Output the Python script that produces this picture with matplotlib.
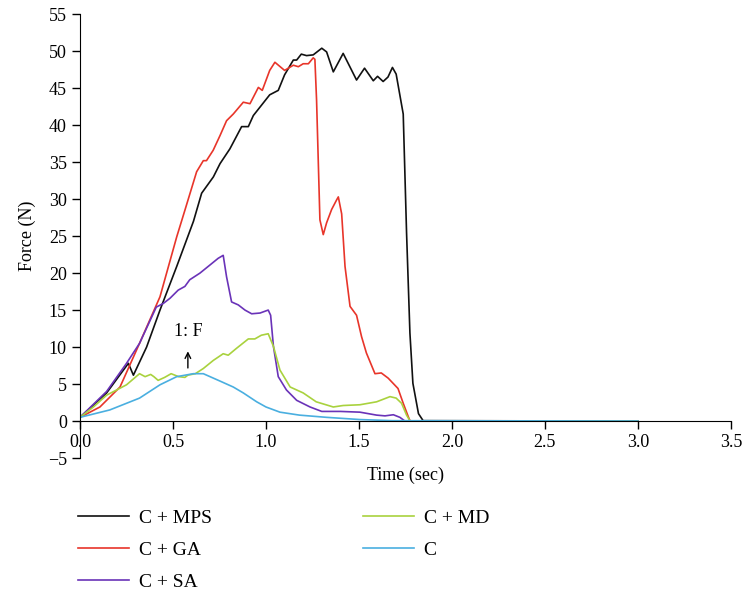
import matplotlib.pyplot as plt

plt.rcParams['font.family'] = ['Liberation Serif', 'DejaVu Serif']

# C + MPS
t_mps = [0, 0.143, 0.26, 0.287, 0.358, 0.43, 0.52, 0.61, 0.654, 0.717, 0.753, 0.806,
         0.869, 0.905, 0.932, 1.02, 1.066, 1.10, 1.147, 1.165, 1.19, 1.218, 1.254, 1.30,
         1.326, 1.362, 1.415, 1.487, 1.53, 1.577, 1.60, 1.63, 1.656, 1.68, 1.70, 1.738,
         1.756, 1.774, 1.79, 1.82, 1.845, 3.0]
f_mps = [0.5, 3.8, 7.8, 6.2, 10.0, 15.0, 20.9, 27.0, 30.8, 33.0, 34.8, 36.8,
         39.8, 39.8, 41.3, 44.1, 44.7, 46.8, 48.8, 48.8, 49.6, 49.4, 49.5, 50.4,
         49.9, 47.2, 49.7, 46.1, 47.7, 46.0, 46.6, 45.9, 46.5, 47.8, 46.9, 41.5,
         25.4, 11.9, 5.1, 1.0, 0.05, 0]

# C + GA
t_ga = [0, 0.107, 0.215, 0.32, 0.43, 0.52, 0.564, 0.627, 0.663, 0.68, 0.716, 0.753,
        0.788, 0.824, 0.878, 0.914, 0.959, 0.98, 1.02, 1.048, 1.10, 1.147, 1.174, 1.20,
        1.228, 1.254, 1.263, 1.272, 1.29, 1.308, 1.326, 1.353, 1.38, 1.389, 1.407, 1.425,
        1.452, 1.487, 1.514, 1.54, 1.586, 1.62, 1.657, 1.71, 1.738, 1.765, 1.775, 3.0]
f_ga = [0.5, 1.9, 4.6, 10.5, 16.8, 24.9, 28.5, 33.7, 35.2, 35.2, 36.6, 38.6,
        40.6, 41.5, 43.1, 42.9, 45.1, 44.7, 47.4, 48.5, 47.4, 48.1, 47.9, 48.3,
        48.3, 49.1, 48.9, 43.4, 27.2, 25.2, 26.8, 28.6, 29.9, 30.3, 28.0, 20.9,
        15.5, 14.3, 11.4, 9.2, 6.4, 6.5, 5.8, 4.4, 2.4, 0.6, 0, 0]

# C + SA
t_sa = [0, 0.143, 0.25, 0.32, 0.41, 0.448, 0.484, 0.528, 0.564, 0.59, 0.645, 0.699,
        0.743, 0.77, 0.788, 0.815, 0.851, 0.887, 0.923, 0.968, 1.012, 1.025, 1.04, 1.066,
        1.11, 1.165, 1.237, 1.30, 1.40, 1.505, 1.595, 1.64, 1.685, 1.72, 1.747, 3.0]
f_sa = [0.5, 4.0, 7.8, 10.5, 15.4, 15.9, 16.6, 17.7, 18.2, 19.1, 20.0, 21.1,
        22.0, 22.4, 19.5, 16.1, 15.7, 15.0, 14.5, 14.6, 15.0, 14.3, 10.1, 6.0,
        4.2, 2.8, 1.9, 1.3, 1.3, 1.2, 0.8, 0.7, 0.85, 0.5, 0, 0]

# C + MD
t_md = [0, 0.072, 0.143, 0.197, 0.25, 0.32, 0.35, 0.38, 0.397, 0.42, 0.455, 0.49,
        0.53, 0.564, 0.58, 0.62, 0.663, 0.717, 0.77, 0.797, 0.84, 0.905, 0.94, 0.975,
        1.012, 1.04, 1.075, 1.13, 1.20, 1.27, 1.362, 1.415, 1.505, 1.595, 1.667, 1.70,
        1.729, 1.756, 1.775, 3.0]
f_md = [0.5, 1.9, 3.5, 4.2, 4.9, 6.4, 6.0, 6.3, 6.0, 5.5, 5.9, 6.4,
        6.0, 5.9, 6.2, 6.4, 7.1, 8.2, 9.1, 8.9, 9.8, 11.1, 11.1, 11.6,
        11.8, 10.1, 6.9, 4.6, 3.8, 2.6, 1.9, 2.1, 2.2, 2.6, 3.3, 3.1,
        2.4, 0.8, 0, 0]

# C
t_c = [0, 0.16, 0.32, 0.43, 0.52, 0.61, 0.663, 0.753, 0.824, 0.878, 0.95, 1.0,
       1.075, 1.18, 1.326, 1.505, 1.68, 3.0]
f_c = [0.5, 1.5, 3.1, 4.9, 6.0, 6.4, 6.4, 5.4, 4.6, 3.8, 2.6, 1.9,
       1.2, 0.8, 0.5, 0.2, 0.05, 0]

series = [
    ('C + MPS', t_mps, f_mps, '#111111'),
    ('C + GA', t_ga, f_ga, '#e8352a'),
    ('C + SA', t_sa, f_sa, '#6a33b8'),
    ('C + MD', t_md, f_md, '#a9d23e'),
    ('C', t_c, f_c, '#4aafe0'),
]

fig = plt.figure(figsize=(7.43, 5.91), dpi=100)
ax = fig.add_axes([0.1077, 0.225, 0.876, 0.751])

for name, t, f, col in series:
    ax.plot(t, f, color=col, lw=1.2, label=name)

ax.set_xlim(0, 3.5)
ax.set_ylim(-5, 55)
ax.set_xticks([0, 0.5, 1.0, 1.5, 2.0, 2.5, 3.0, 3.5])
ax.set_xticklabels(['0.0', '0.5', '1.0', '1.5', '2.0', '2.5', '3.0', '3.5'])
ax.set_yticks(range(-5, 56, 5))
ax.set_yticklabels(['\u22125'] + [str(v) for v in range(0, 56, 5)])
ax.spines['bottom'].set_position(('data', 0))
ax.spines['top'].set_visible(False)
ax.spines['right'].set_visible(False)
ax.tick_params(direction='out', length=6, width=1, labelsize=13)
ax.set_xlabel('Time (sec)', fontsize=13)
ax.xaxis.set_label_coords(0.5, -0.02)
ax.set_ylabel('Force (N)', fontsize=13)
ax.yaxis.set_label_coords(-0.068, 0.5)

ax.annotate('', xy=(0.58, 9.8), xytext=(0.58, 6.8),
            arrowprops=dict(arrowstyle='->', color='black', lw=1))
ax.text(0.58, 12.1, '1: F', ha='center', va='center', fontsize=13)

fig.legend(loc='upper left', bbox_to_anchor=(0.082, 0.168), ncol=2, frameon=False,
           fontsize=14, handlelength=2.6, columnspacing=7.8, labelspacing=0.75,
           handletextpad=0.5)

fig.savefig('out.png', dpi=100)
